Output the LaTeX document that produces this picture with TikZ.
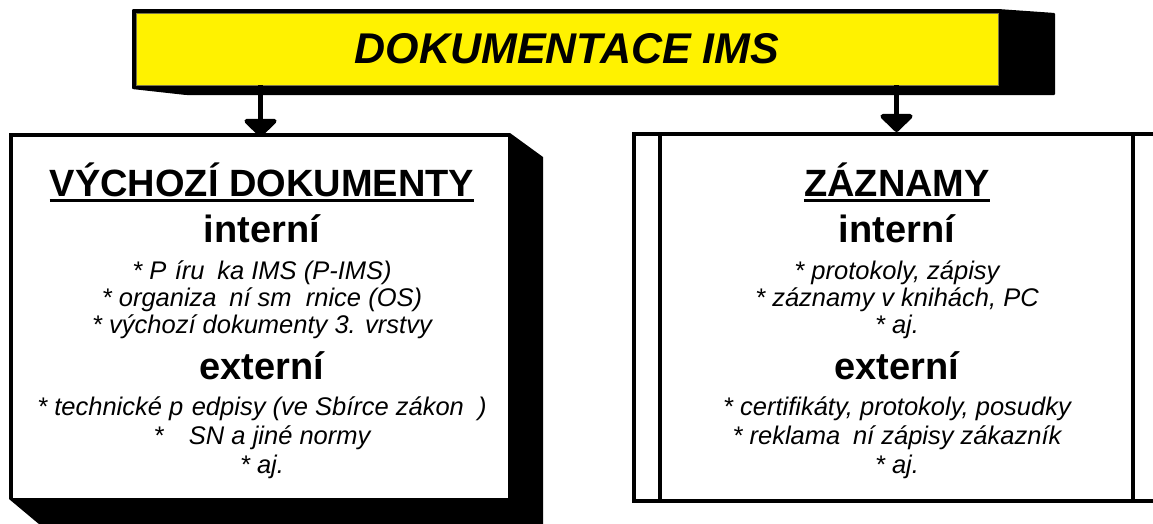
\documentclass[tikz,border=0pt]{standalone}
\usepackage{fontspec}
\setmainfont{Liberation Sans}
\usetikzlibrary{arrows.meta}
\begin{document}
\begin{tikzpicture}[x=1pt,y=-1pt,
  titlebox/.style={fill=yellow,draw=black!60!yellow,line width=0.6pt,
    minimum width=862pt,minimum height=72pt,inner sep=0pt,
    font=\bfseries\itshape\fontsize{43}{43}\selectfont},
  docbox/.style={fill=white,minimum width=495pt,minimum height=361pt,inner sep=0pt},
  recbox/.style={draw=black,line width=4pt,fill=white,
    minimum width=525pt,minimum height=367pt,inner sep=0pt},
  head/.style={anchor=base,inner sep=0pt,font=\bfseries\fontsize{38}{38}\selectfont},
  item/.style={anchor=base,inner sep=0pt,font=\itshape\fontsize{25.5}{25.5}\selectfont},
  uline/.style={line width=3pt},
  bar/.style={line width=4pt},
  conn/.style={line width=5pt,-{Triangle[width=38pt,length=19pt,round]}},
]
\useasboundingbox (0,0) rectangle (1153,523);

% title bar with its extruded black side
\fill[black,rounded corners=1pt] (132,9) -- (998,9) -- (1055,13) -- (1055,95)
  -- (186,95) -- (132,89) -- cycle;
\node[titlebox] (title) at (567,49) {DOKUMENTACE IMS};

% left box: white face on a black block
\fill[black] (9,133) -- (510,133) -- (543,157) -- (543,540) -- (58,540)
  -- (9,499) -- cycle;
\node[docbox] (vd) at (260.5,317.5) {};

% right box: predefined-process frame
\node[recbox] (zz) at (896.5,317.5) {};
\draw[bar] ([xshift=28pt]zz.north west) -- ([xshift=28pt]zz.south west);
\draw[bar] ([xshift=-28pt]zz.north east) -- ([xshift=-28pt]zz.south east);

% connectors
\draw[conn] (title.south -| vd.north) -- (vd.north);
\draw[conn] (title.south -| zz.north) -- (zz.north);

% left box text
\node[head] (vdh) at (262,196) {VÝCHOZÍ DOKUMENTY};
\draw[uline] ([yshift=-4pt]vdh.base west) -- ([yshift=-4pt]vdh.base east);
\node[head] (vdi) at (262,242) {interní};
\node[item] (vd1) at (262,279) {* P\hspace{0.333em}íru\hspace{0.5em}ka IMS (P-IMS)};
\node[item] (vd2) at (262,306) {* organiza\hspace{0.5em}ní sm\hspace{0.556em}rnice (OS)};
\node[item] (vd3) at (262,333) {* výchozí dokumenty 3. vrstvy};
\node[head] (vde) at (262,379) {externí};
\node[item] (vd4) at (262,415) {* technické p\hspace{0.333em}edpisy (ve Sbírce zákon\hspace{0.556em})};
\node[item] (vd5) at (262,444) {* \hspace{0.722em}SN a jiné normy};
\node[item] (vd6) at (262,473) {* aj.};

% right box text
\node[head] (zzh) at (897,196) {ZÁZNAMY};
\draw[uline] ([yshift=-4pt]zzh.base west) -- ([yshift=-4pt]zzh.base east);
\node[head] (zzi) at (897,242) {interní};
\node[item] (zz1) at (897,279) {* protokoly, zápisy};
\node[item] (zz2) at (897,306) {* záznamy v knihách, PC};
\node[item] (zz3) at (897,333) {* aj.};
\node[head] (zze) at (897,379) {externí};
\node[item] (zz4) at (897,415) {* certifikáty, protokoly, posudky};
\node[item] (zz5) at (897,444) {* reklama\hspace{0.5em}ní zápisy zákazník\hspace{0.556em}};
\node[item] (zz6) at (897,473) {* aj.};
\end{tikzpicture}
\end{document}
